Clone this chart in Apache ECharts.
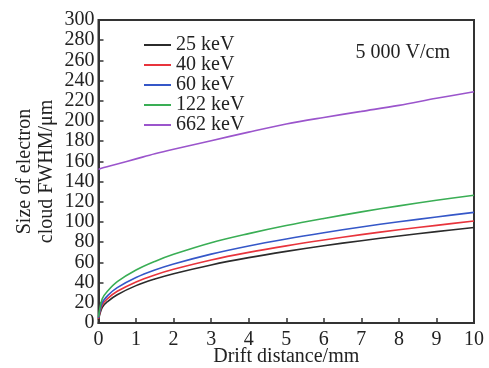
<!DOCTYPE html>
<html>
<head>
<meta charset="utf-8">
<script src="https://cdn.jsdelivr.net/npm/echarts@6/dist/echarts.min.js"></script>
<style>
html,body{margin:0;padding:0;background:#fff;}
#c{width:489px;height:368px;}
</style>
</head>
<body>
<div id="c"></div>
<script>
// Drift distance (mm)
var driftX = [0, 0.1, 0.25, 0.5, 1, 1.5, 2, 3, 4, 5, 6, 7, 8, 9, 10];
// Electron cloud FWHM (um)
var kev25  = [3, 15.5, 21.5, 28, 37, 43.5, 48.8, 57.5, 64.7, 70.9, 76.5, 81.5, 86.1, 90.5, 94.5];
var kev40  = [4, 18, 24.4, 31.4, 40.7, 47.6, 53.2, 62.4, 69.9, 76.4, 82.2, 87.5, 92.3, 96.7, 101];
var kev60  = [5, 20, 27.4, 35, 45, 52.4, 58.4, 68.2, 76.3, 83.2, 89.4, 95.1, 100.2, 105, 109.5];
var kev122 = [6, 24, 32, 41, 52.5, 61, 68, 79.5, 88.5, 96.5, 103.5, 110, 116, 121.5, 126.5];
var kev662 = [152, 153.5, 155, 157.5, 162.5, 167.5, 172, 180.5, 189, 197, 203.5, 209.5, 215.5, 222.5, 229];
var seriesNames = ['25 keV', '40 keV', '60 keV', '122 keV', '662 keV'];
var seriesColors = ['#2b2b2b', '#e8343c', '#3557c8', '#3aae55', '#9b55cc'];
var seriesValues = [kev25, kev40, kev60, kev122, kev662];
var fieldLabel = '5 000 V/cm';

var font = '"Liberation Serif", "Times New Roman", serif';
var chart = echarts.init(document.getElementById('c'), null, {renderer: 'canvas'});

function pairs(arr) {
  return driftX.map(function (x, i) { return [x, arr[i]]; });
}

var series = seriesNames.map(function (n, i) {
  return {
    name: n,
    type: 'line',
    data: pairs(seriesValues[i]),
    smooth: 0.35,
    symbol: 'none',
    lineStyle: {color: seriesColors[i], width: 1.6},
    itemStyle: {color: seriesColors[i]},
    z: 3
  };
});

var labelStyle = {fontFamily: font, fontSize: 20, color: '#222', showMinLabel: true, showMaxLabel: true, hideOverlap: false};

chart.setOption({
  animation: false,
  backgroundColor: '#fff',
  grid: {left: 98.5, right: 15, top: 20, bottom: 45, containLabel: false, outerBoundsMode: 'none',
         show: true, borderColor: '#333', borderWidth: 2, backgroundColor: 'transparent'},
  legend: {
    orient: 'vertical',
    left: 139,
    top: 30,
    icon: 'rect',
    itemWidth: 27,
    itemHeight: 2,
    itemGap: 0,
    data: seriesNames,
    textStyle: {fontFamily: font, fontSize: 20, color: '#222', lineHeight: 19, padding: [0, 0, 0, 0]}
  },
  xAxis: {
    type: 'value', min: 0, max: 10, interval: 1,
    name: 'Drift distance/mm', nameLocation: 'middle', nameGap: 24, nameMoveOverlap: false,
    nameTextStyle: {fontFamily: font, fontSize: 20, color: '#222'},
    axisLine: {show: true, lineStyle: {color: '#333', width: 2}},
    axisTick: {show: true, inside: true, length: 5, lineStyle: {color: '#333', width: 1.5}},
    axisLabel: Object.assign({margin: 7}, labelStyle),
    splitLine: {show: false}
  },
  yAxis: {
    type: 'value', min: 0, max: 300, interval: 20,
    name: 'Size of electron\ncloud FWHM/μm', nameLocation: 'middle', nameGap: 41, nameRotate: 90, nameMoveOverlap: false,
    nameTextStyle: {fontFamily: font, fontSize: 20, color: '#222', lineHeight: 22},
    axisLine: {show: true, lineStyle: {color: '#333', width: 2}},
    axisTick: {show: true, inside: true, length: 5, lineStyle: {color: '#333', width: 1.5}},
    axisLabel: Object.assign({margin: 4}, labelStyle),
    splitLine: {show: false}
  },
  graphic: [{
    type: 'text', right: 39, top: 43,
    style: {text: fieldLabel, font: '20px ' + font, fill: '#222'}
  }],
  series: series
});
</script>
</body>
</html>
